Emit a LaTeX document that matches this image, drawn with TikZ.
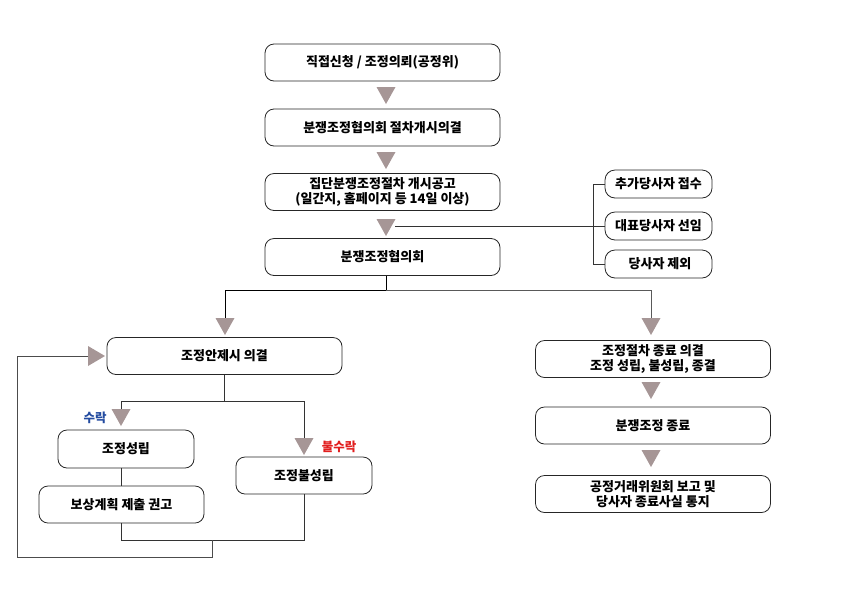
\documentclass[tikz,border=0pt]{standalone}
\usepackage{fontspec}
\setmainfont{Noto Sans CJK KR}[BoldFont={Noto Sans CJK KR Black}]
\usetikzlibrary{calc}
\usepackage{color}
\definecolor{tri}{RGB}{166,150,150}
\definecolor{okblue}{RGB}{35,75,160}
\definecolor{nored}{RGB}{225,30,30}
\newcommand{\tridown}[2]{\fill[tri] (#1-9.5,#2) -- (#1+9.5,#2) -- (#1,#2+17) -- cycle;}
\newcommand{\triright}[2]{\fill[tri] (#1,#2-10) -- (#1,#2+10) -- (#1+17,#2) -- cycle;}

\begin{document}
\begin{tikzpicture}[x=1pt,y=-1pt,
    box/.style={draw=black!85, line width=.8pt, rounded corners=9pt, align=center,
      inner sep=0pt, minimum width=235pt, minimum height=37pt,
      font=\bfseries\fontsize{13}{15}\selectfont},
    side/.style={box, minimum width=107pt, minimum height=28pt, rounded corners=10pt},
    link/.style={draw=black!80, line width=.9pt}]
      \useasboundingbox (0,0) rectangle (842,595);

      % main column
      \node[box] (b1) at (382.5,62.5) {직접신청 / 조정의뢰(공정위)};
      \node[box] (b2) at (382.5,127.5) {분쟁조정협의회 절차개시의결};
      \node[box] (b3) at (382.5,192) {집단분쟁조정절차 개시공고\\(일간지, 홈페이지 등 14일 이상)};
      \node[box] (b4) at (382.5,257) {분쟁조정협의회};
      \tridown{386}{87}
      \tridown{386}{152}
      \tridown{386}{219}

      % parties
      \node[side] (s1) at (658.5,184) {추가당사자 접수};
      \node[side] (s2) at (658.5,226) {대표당사자 선임};
      \node[side] (s3) at (658.5,264) {\ 당사자 제외};
      \coordinate (t3) at (395,226);
      \coordinate (br) at (593,226);
      \draw[link] (t3) -- (s2.west);
      \draw[link] (s1.west) -| (br) |- (s3.west);

      % branch
      \coordinate (m) at (386,290);
      \node[box] (b5) at (224.5,356) {조정안제시 의결};
      \node[box] (b9) at (653,359) {조정절차 종료 의결\\조정 성립, 불성립, 종결};
      \node[box] (b10) at (653,425.5) {분쟁조정 종료};
      \node[box] (b11) at (653,494) {공정거래위원회 보고 및\\당사자 종료사실 통지};
      \coordinate (lb) at (225,318);
      \coordinate (rb) at (651,318);
      \draw[link,draw=black] (b4.south -| m) -- (m);
      \draw[link,draw=black] (m) -| (lb);
      \draw[link,draw=black!65] (m) -| (rb);
      \tridown{225}{318}
      \tridown{651}{318}
      \tridown{651}{382}
      \tridown{651}{450}

      % results
      \node[box, minimum width=136pt, minimum height=38pt] (b6) at (126,449) {조정성립};
      \node[box, minimum width=136pt, minimum height=37pt] (b7) at (304,475.5) {조정불성립};
      \node[box, minimum width=165pt, minimum height=37pt] (b8) at (121.5,504.5) {보상계획 제출 권고};
      \coordinate (d) at (224,401);
      \coordinate (la) at (121,409);
      \coordinate (ra) at (304,438);
      \draw[link] (b5.south -| d) -- (d);
      \draw[link] (la) |- (d) -| (ra);
      \tridown{121}{409}
      \tridown{304}{438}
      \node[text=okblue, font=\bfseries\fontsize{12.5}{14}\selectfont] (ok) at (95,418) {수락};
      \node[text=nored, font=\bfseries\fontsize{12.5}{14}\selectfont] (no) at (339,447) {불수락};

      % loop back
      \coordinate (j) at (212,540);
      \coordinate (a5) at (88,356);
      \draw[link] (b6.south -| la) -- (b8.north -| la);
      \draw[link] (b8.south -| la) |- (j) -| (b7.south);
      \draw[link,draw=black!70] (j) -- (212,557) -| (17,356) -- (a5);
      \triright{88}{356}
\end{tikzpicture}
\end{document}
